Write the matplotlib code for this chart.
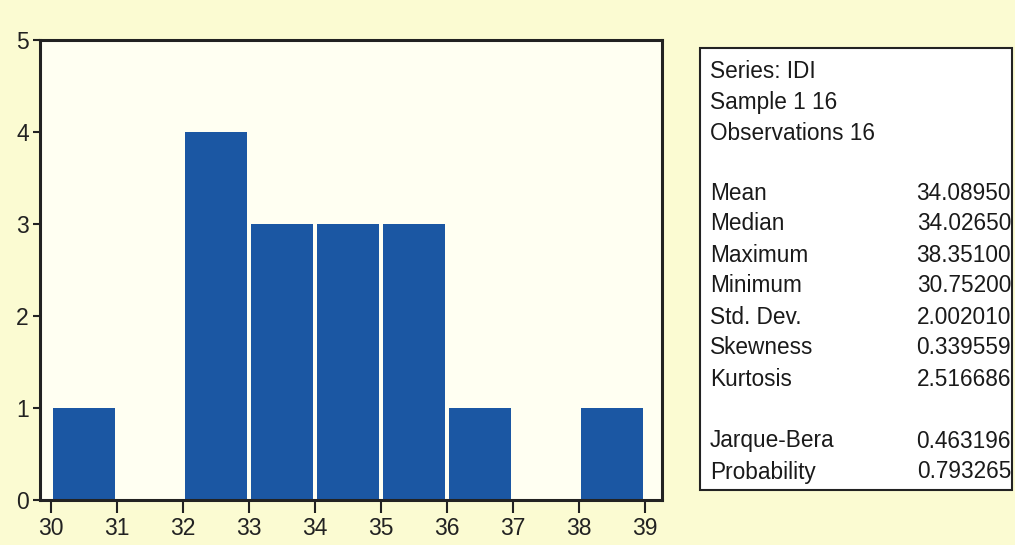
import matplotlib
matplotlib.use("Agg")
import matplotlib.pyplot as plt
from matplotlib.patches import Rectangle

# Data
bin_left = [30, 31, 32, 33, 34, 35, 36, 37, 38]
counts = [1, 0, 4, 3, 3, 3, 1, 0, 1]
xticks = [30, 31, 32, 33, 34, 35, 36, 37, 38, 39]
yticks = [0, 1, 2, 3, 4, 5]

header_lines = ["Series: IDI", "Sample 1 16", "Observations 16"]
stat_names = ["Mean", "Median", "Maximum", "Minimum", "Std. Dev.", "Skewness", "Kurtosis"]
stat_values = ["34.08950", "34.02650", "38.35100", "30.75200", "2.002010", "0.339559", "2.516686"]
test_names = ["Jarque-Bera", "Probability"]
test_values = ["0.463196", "0.793265"]

W, H = 1015, 545
bg = "#fbfbd2"
plt.rcParams['font.family'] = ['Liberation Sans', 'DejaVu Sans']

fig = plt.figure(figsize=(W / 100, H / 100), dpi=100)
fig.patch.set_facecolor(bg)

ax = fig.add_axes([40 / W, 1 - 500 / H, 622 / W, 460 / H])
ax.set_facecolor("#fffff2")
gap = 0.03
ax.bar([b + gap for b in bin_left], counts, width=1 - 2 * gap, align='edge',
       color="#1b57a3", edgecolor='none')
ax.set_xlim(29.83, 39.26)
ax.set_ylim(0, 5)
ax.set_xticks(xticks)
ax.set_yticks(yticks)
ax.tick_params(axis='x', direction='out', length=9, width=1.5, labelsize=16.5, pad=3, colors='#222222')
ax.tick_params(axis='y', direction='out', length=5, width=1.5, labelsize=16.5, pad=3, colors='#222222')
for s in ax.spines.values():
    s.set_linewidth(2.2)
    s.set_color('#222222')

# Stats box
bx0, by0, bx1, by1 = 700, 48, 1012, 490
fig.patches.append(Rectangle((bx0 / W, 1 - by1 / H), (bx1 - bx0) / W, (by1 - by0) / H,
                             transform=fig.transFigure, facecolor='white',
                             edgecolor='#222222', linewidth=1.5))

fs = 16.3
lx, rx = 710, 1011
def put(y, text, x, ha):
    fig.text(x / W, 1 - y / H, text, ha=ha, va='center', fontsize=fs, color='#1a1a1a')

y = 71
for t in header_lines:
    put(y, t, lx, 'left')
    y += 31
y = 193
for n, v in zip(stat_names, stat_values):
    put(y, n, lx, 'left')
    put(y, v, rx, 'right')
    y += 31
y = 441
for n, v in zip(test_names, test_values):
    put(y, n, lx, 'left')
    put(y, v, rx, 'right')
    y += 31

fig.savefig("out.png", dpi=100, facecolor=bg)
